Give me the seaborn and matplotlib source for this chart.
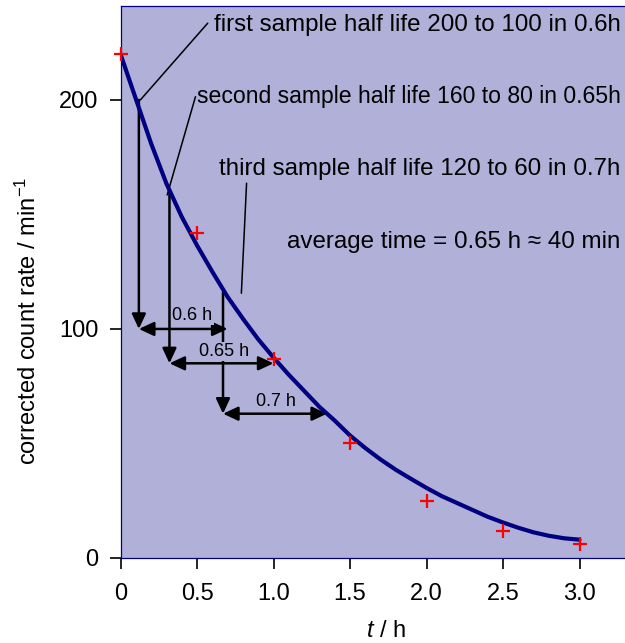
import pandas as pd
import seaborn as sns
import matplotlib.pyplot as plt

# measured count rates (red crosses)
t_obs = [0, 0.5, 1.0, 1.5, 2.0, 2.5, 3.0]
rate_obs = [220, 142, 87, 50, 25, 12, 6]

# smooth best-fit curve
t_fit = [0.0, 0.1, 0.2, 0.3, 0.4, 0.5, 0.6, 0.7, 0.8, 0.9, 1.0,
         1.1, 1.2, 1.3, 1.4, 1.5, 1.6, 1.7, 1.8, 1.9, 2.0,
         2.1, 2.2, 2.3, 2.4, 2.5, 2.6, 2.7, 2.8, 2.9, 3.0]
rate_fit = [220, 200.5, 181, 163.5, 149, 136.5, 125, 114, 104.5, 95.5, 87.5,
            80, 73, 66, 60, 53.5, 48, 43, 38.5, 34.5, 30.6,
            27, 24, 21, 18, 15.5, 13.2, 11.2, 9.7, 8.6, 8]

# half-life constructions: start time, start rate, halved rate, end time
hl_start_t = [0.12, 0.32, 0.67]
hl_start_rate = [200, 160, 116]
hl_half_rate = [100, 85, 63]
hl_end_t = [0.70, 1.0, 1.35]
hl_labels = ["0.6 h", "0.65 h", "0.7 h"]

notes = ["first sample half life 200 to 100 in 0.6h",
         "second sample half life 160 to 80 in 0.65h",
         "third sample half life 120 to 60 in 0.7h",
         "average time = 0.65 h \u2248 40 min"]

x_ticks = [0, 0.5, 1.0, 1.5, 2.0, 2.5, 3.0]
x_ticklabels = ["0", "0.5", "1.0", "1.5", "2.0", "2.5", "3.0"]
y_ticks = [0, 100, 200]

sns.set_theme(style="ticks")
plt.rcParams['font.family'] = ['Liberation Sans', 'DejaVu Sans']
plt.rcParams['mathtext.fontset'] = 'custom'
plt.rcParams['mathtext.rm'] = 'Liberation Sans'
plt.rcParams['mathtext.it'] = 'Liberation Sans:italic'
plt.rcParams['text.color'] = 'black'
plt.rcParams['axes.labelcolor'] = 'black'

bg = "#b0b0d8"
navy = "#000080"

fig = plt.figure(figsize=(6.25, 6.43), dpi=100)
ax = fig.add_axes([120.5 / 625, 85 / 643, 535.5 / 625, 552 / 643])
ax.set_facecolor(bg)

df_fit = pd.DataFrame({"t": t_fit, "rate": rate_fit})
df_obs = pd.DataFrame({"t": t_obs, "rate": rate_obs})
sns.lineplot(data=df_fit, x="t", y="rate", color=navy, lw=3, ax=ax, zorder=4)
sns.scatterplot(data=df_obs, x="t", y="rate", marker="+", s=90, color="red",
                linewidth=1.6, ax=ax, zorder=5)
ax.collections[-1].set_clip_on(False)

# half-life arrows
head1 = "-|>,head_length=0.9,head_width=0.42"
head2 = "<|-|>,head_length=0.9,head_width=0.42"
label_pos = [(0.468, 103.9), (0.68, 88.2), (1.017, 66.4)]
for t0, r0, r1, t1, lab, pos in zip(hl_start_t, hl_start_rate, hl_half_rate,
                                    hl_end_t, hl_labels, label_pos):
    ax.annotate("", xy=(t0, r1), xytext=(t0, r0),
                arrowprops=dict(arrowstyle=head1, color="black", lw=1.8,
                                mutation_scale=10, shrinkA=0, shrinkB=0),
                zorder=3)
    ax.annotate("", xy=(t1, r1), xytext=(t0, r1),
                arrowprops=dict(arrowstyle=head2, color="black", lw=1.8,
                                mutation_scale=10, shrinkA=0, shrinkB=0),
                zorder=3)
    ax.text(pos[0], pos[1], lab, ha="center", va="baseline", fontsize=13,
            zorder=3.5, bbox=dict(facecolor=bg, edgecolor="none", pad=1))

# notes with leader lines
note_y = [230.3, 198.5, 167, 135.2]
note_size = [17.4, 16.6, 17.4, 17.4]
for txt, y, fs in zip(notes, note_y, note_size):
    ax.text(3.268, y, txt, ha="right", va="baseline", fontsize=fs, zorder=6)
leaders = [((0.13, 200), (0.57, 233.5)),
           ((0.305, 158.5), (0.49, 201.4)),
           ((0.79, 115.6), (0.824, 163.6))]
for (xa, ya), (xb, yb) in leaders:
    ax.plot([xa, xb], [ya, yb], color="black", lw=1.1, zorder=3)

ax.set_xlim(0, 3.5)
ax.set_ylim(0, 241)
ax.set_xticks(x_ticks)
ax.set_xticklabels(x_ticklabels)
ax.set_yticks(y_ticks)
ax.tick_params(direction="out", length=8, width=1.2, color="black",
               labelsize=17, labelcolor="black")
ax.tick_params(axis="x", pad=10)
ax.tick_params(axis="y", pad=8)
for sp in ax.spines.values():
    sp.set_color(navy)
    sp.set_linewidth(0.9)
    sp.set_visible(True)

ax.set_xlabel("$t$ / h", fontsize=17)
ax.set_ylabel("corrected count rate / min$^{-1}$", fontsize=17)
ax.xaxis.set_label_coords((386 - 120.5) / 535.5, (558 - 620) / 552)
ax.yaxis.set_label_coords((41 - 120.5) / 535.5, (558 - 321) / 552)

fig.savefig("out.png", dpi=100, facecolor="white")
